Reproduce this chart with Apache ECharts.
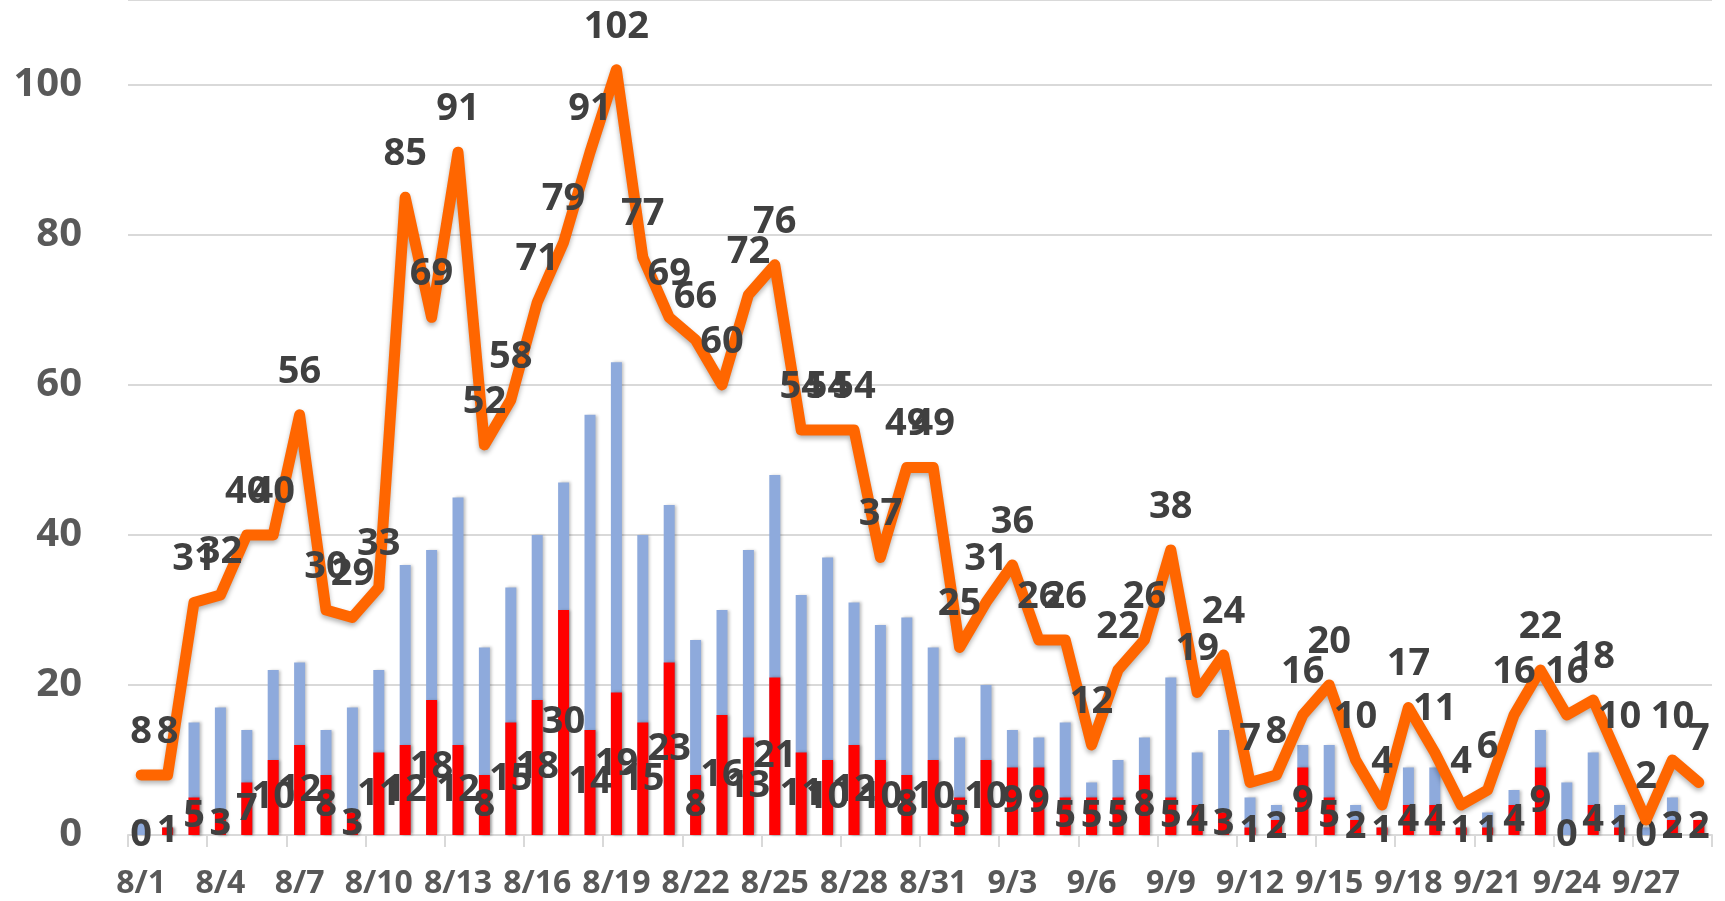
<!DOCTYPE html>
<html>
<head>
<meta charset="utf-8">
<script src="https://cdn.jsdelivr.net/npm/echarts@6/dist/echarts.min.js"></script>
<style>
  html, body { margin: 0; padding: 0; background: #fff; }
  #main { width: 1725px; height: 901px; }
</style>
</head>
<body>
<div id="main"></div>
<script>
var dates = ['8/1','8/2','8/3','8/4','8/5','8/6','8/7','8/8','8/9','8/10',
  '8/11','8/12','8/13','8/14','8/15','8/16','8/17','8/18','8/19','8/20',
  '8/21','8/22','8/23','8/24','8/25','8/26','8/27','8/28','8/29','8/30','8/31',
  '9/1','9/2','9/3','9/4','9/5','9/6','9/7','9/8','9/9','9/10',
  '9/11','9/12','9/13','9/14','9/15','9/16','9/17','9/18','9/19','9/20',
  '9/21','9/22','9/23','9/24','9/25','9/26','9/27','9/28','9/29'];

// orange line
var lineVals = [8,8,31,32,40,40,56,30,29,33,
  85,69,91,52,58,71,79,91,102,77,
  69,66,60,72,76,54,54,54,37,49,49,
  25,31,36,26,26,12,22,26,38,19,
  24,7,8,16,20,10,4,17,11,4,
  6,16,22,16,18,10,2,10,7];

// blue bars (not labelled)
var blueVals = [2,1,15,17,14,22,23,14,17,22,
  36,38,45,25,33,40,47,56,63,40,
  44,26,30,38,48,32,37,31,28,29,25,
  13,20,14,13,15,7,10,13,21,11,
  14,5,4,12,12,4,1,9,9,1,
  3,6,14,7,11,4,1,5,2];

// red bars (labelled)
var redVals = [0,1,5,3,7,10,12,8,3,11,
  12,18,12,8,15,18,30,14,19,15,
  23,8,16,13,21,11,10,12,10,8,10,
  5,10,9,9,5,5,5,8,5,4,
  3,1,2,9,5,2,1,4,4,1,
  1,4,9,0,4,1,0,2,2];

var labelFont = 'Open Sans';

var myChart = echarts.init(document.getElementById('main'));
var option = {
  animation: false,
  backgroundColor: '#ffffff',
  grid: { left: 128, right: 13, top: 0, bottom: 66 },
  xAxis: {
    type: 'category',
    data: dates,
    axisLine: { lineStyle: { color: '#d9d9d9', width: 2 } },
    axisTick: { show: true, interval: 2, length: 12, lineStyle: { color: '#d9d9d9', width: 2 } },
    axisLabel: {
      interval: 2, margin: 33,
      color: '#595959', fontFamily: labelFont, fontWeight: 'bold', fontSize: 32
    }
  },
  yAxis: {
    type: 'value',
    min: 0, max: 111.3, interval: 20,
    axisLine: { show: false },
    axisTick: { show: false },
    splitLine: { lineStyle: { color: '#d9d9d9', width: 2 } },
    axisLabel: {
      margin: 46, showMaxLabel: false,
      color: '#595959', fontFamily: labelFont, fontWeight: 'bold', fontSize: 40
    }
  },
  series: [
    {
      type: 'bar',
      data: blueVals,
      barWidth: 11,
      itemStyle: {
        color: '#8eaadc',
        shadowColor: 'rgba(0,0,0,0.25)', shadowBlur: 3, shadowOffsetX: 2
      },
      z: 2
    },
    {
      type: 'bar',
      data: redVals,
      barWidth: 11,
      barGap: '-100%',
      itemStyle: {
        color: '#ff0000',
        shadowColor: 'rgba(0,0,0,0.25)', shadowBlur: 3, shadowOffsetX: 2
      },
      label: {
        show: true, position: 'inside',
        color: '#404040', fontFamily: labelFont, fontWeight: 'bold', fontSize: 38
      },
      z: 3
    },
    {
      type: 'line',
      data: lineVals,
      symbol: 'circle',
      symbolSize: 2,
      itemStyle: { color: '#ff6600' },
      lineStyle: {
        color: '#ff6600', width: 11, join: 'round', cap: 'round',
        shadowColor: 'rgba(0,0,0,0.3)', shadowBlur: 5, shadowOffsetY: 3
      },
      label: {
        show: true, position: 'top', distance: 23,
        color: '#404040', fontFamily: labelFont, fontWeight: 'bold', fontSize: 38
      },
      z: 4
    }
  ]
};
myChart.setOption(option);
</script>
</body>
</html>
